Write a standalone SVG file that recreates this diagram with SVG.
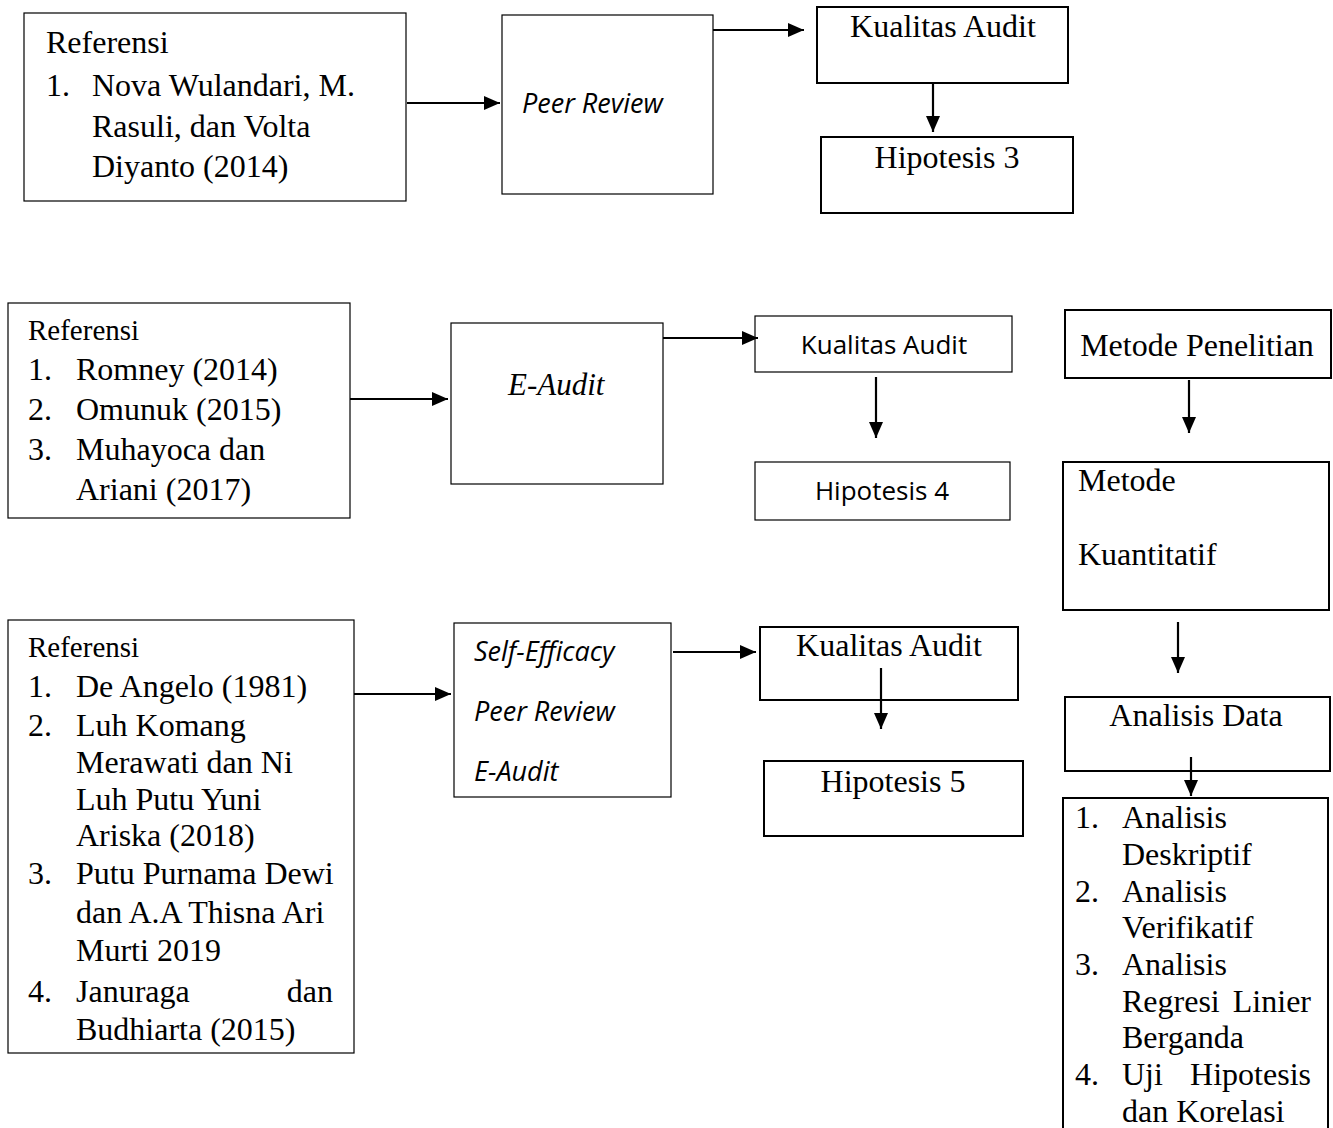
<svg xmlns="http://www.w3.org/2000/svg" width="1333" height="1128" viewBox="0 0 1333 1128">
<style>
.bg{fill:#ffffff}
.box{fill:#ffffff;stroke:#000;stroke-width:1.2}
.bx2{fill:#ffffff;stroke:#000;stroke-width:2}
.tr{font-family:"Liberation Serif","Times New Roman",serif;font-size:32px;fill:#000}
.tri{font-family:"Liberation Serif","Times New Roman",serif;font-size:31px;font-style:italic;fill:#000}
.ref{font-family:"Liberation Serif","Times New Roman",serif;font-size:29px;fill:#000}
.sn{font-family:"Open Sans","Liberation Sans",sans-serif;font-size:26px;fill:#000}
.si{font-family:"Open Sans","Liberation Sans",sans-serif;font-size:27px;font-style:italic;fill:#000}
.c{text-anchor:middle}
.con line{stroke:#000;stroke-width:2.2;marker-end:url(#ah)}
</style>
<defs>
<marker id="ah" markerUnits="userSpaceOnUse" markerWidth="16" markerHeight="14" refX="16" refY="7" orient="auto">
<path d="M0,0 L16,7 L0,14 z" fill="#000"/>
</marker>
</defs>
<rect class="bg" x="0" y="0" width="1333" height="1128"/>

<g id="ref1">
<rect class="box" x="24" y="13" width="382" height="188"/>
<text class="tr" x="46" y="53">Referensi</text>
<text class="tr" x="46" y="96">1.</text>
<text class="tr" x="92" y="96">Nova Wulandari, M.</text>
<text class="tr" x="92" y="137">Rasuli, dan Volta</text>
<text class="tr" x="92" y="177">Diyanto (2014)</text>
</g>
<g id="peerreview">
<rect class="box" x="502" y="15" width="211" height="179"/>
<text class="si" x="522" y="113">Peer Review</text>
</g>
<g id="kualitas1">
<rect class="bx2" x="817" y="7" width="251" height="76"/>
<text class="tr c" x="943" y="37">Kualitas Audit</text>
</g>
<g id="hipotesis3">
<rect class="bx2" x="821" y="137" width="252" height="76"/>
<text class="tr c" x="947" y="168">Hipotesis 3</text>
</g>

<g id="ref2">
<rect class="box" x="8" y="303" width="342" height="215"/>
<text class="ref" x="28" y="340">Referensi</text>
<text class="tr" x="28" y="380">1.</text><text class="tr" x="76" y="380">Romney (2014)</text>
<text class="tr" x="28" y="420">2.</text><text class="tr" x="76" y="420">Omunuk (2015)</text>
<text class="tr" x="28" y="460">3.</text><text class="tr" x="76" y="460">Muhayoca dan</text>
<text class="tr" x="76" y="500">Ariani (2017)</text>
</g>
<g id="eaudit">
<rect class="box" x="451" y="323" width="212" height="161"/>
<text class="tri" x="508" y="395">E-Audit</text>
</g>
<g id="kualitas2">
<rect class="box" x="755" y="316" width="257" height="56"/>
<text class="sn c" x="884" y="354">Kualitas Audit</text>
</g>
<g id="hipotesis4">
<rect class="box" x="755" y="462" width="255" height="58"/>
<text class="sn c" x="882" y="500">Hipotesis 4</text>
</g>

<g id="metodepenelitian">
<rect class="bx2" x="1065" y="310" width="266" height="68"/>
<text class="tr c" x="1197" y="356">Metode Penelitian</text>
</g>
<g id="metodekuantitatif">
<rect class="bx2" x="1063" y="462" width="266" height="148"/>
<text class="tr" x="1078" y="491">Metode</text>
<text class="tr" x="1078" y="565">Kuantitatif</text>
</g>
<g id="analisisdata">
<rect class="bx2" x="1065" y="697" width="265" height="74"/>
<text class="tr c" x="1196" y="726">Analisis Data</text>
</g>
<g id="analisislist">
<rect class="bx2" x="1063" y="798" width="265" height="345"/>
<text class="tr" x="1075" y="828">1.</text><text class="tr" x="1122" y="828">Analisis</text>
<text class="tr" x="1122" y="865">Deskriptif</text>
<text class="tr" x="1075" y="902">2.</text><text class="tr" x="1122" y="902">Analisis</text>
<text class="tr" x="1122" y="938">Verifikatif</text>
<text class="tr" x="1075" y="975">3.</text><text class="tr" x="1122" y="975">Analisis</text>
<text class="tr" y="1012"><tspan x="1122">Regresi</tspan><tspan x="1311" text-anchor="end">Linier</tspan></text>
<text class="tr" x="1122" y="1048">Berganda</text>
<text class="tr" x="1075" y="1085">4.</text><text class="tr" y="1085"><tspan x="1122">Uji</tspan><tspan x="1311" text-anchor="end">Hipotesis</tspan></text>
<text class="tr" x="1122" y="1122">dan Korelasi</text>
</g>

<g id="ref3">
<rect class="box" x="8" y="620" width="346" height="433"/>
<text class="ref" x="28" y="657">Referensi</text>
<text class="tr" x="28" y="697">1.</text><text class="tr" x="76" y="697">De Angelo (1981)</text>
<text class="tr" x="28" y="736">2.</text><text class="tr" x="76" y="736">Luh Komang</text>
<text class="tr" x="76" y="773">Merawati dan Ni</text>
<text class="tr" x="76" y="810">Luh Putu Yuni</text>
<text class="tr" x="76" y="846">Ariska (2018)</text>
<text class="tr" x="28" y="884">3.</text><text class="tr" x="76" y="884">Putu Purnama Dewi</text>
<text class="tr" x="76" y="923">dan A.A Thisna Ari</text>
<text class="tr" x="76" y="961">Murti 2019</text>
<text class="tr" x="28" y="1002">4.</text><text class="tr" y="1002"><tspan x="76">Januraga</tspan><tspan x="333" text-anchor="end">dan</tspan></text>
<text class="tr" x="76" y="1040">Budhiarta (2015)</text>
</g>
<g id="selfefficacy">
<rect class="box" x="454" y="623" width="217" height="174"/>
<text class="si" x="474" y="661">Self-Efficacy</text>
<text class="si" x="474" y="721">Peer Review</text>
<text class="si" x="474" y="781">E-Audit</text>
</g>
<g id="kualitas3">
<rect class="bx2" x="760" y="627" width="258" height="73"/>
<text class="tr c" x="889" y="656">Kualitas Audit</text>
</g>
<g id="hipotesis5">
<rect class="bx2" x="764" y="761" width="259" height="75"/>
<text class="tr c" x="893" y="792">Hipotesis 5</text>
</g>

<g id="connectors" class="con">
<line x1="407" y1="103" x2="500" y2="103"/>
<line x1="713" y1="30" x2="804" y2="30"/>
<line x1="933" y1="83" x2="933" y2="132"/>
<line x1="350" y1="399" x2="448" y2="399"/>
<line x1="663" y1="338" x2="758" y2="338"/>
<line x1="876" y1="377" x2="876" y2="438"/>
<line x1="1189" y1="380" x2="1189" y2="433"/>
<line x1="1178" y1="622" x2="1178" y2="673"/>
<line x1="1191" y1="757" x2="1191" y2="796"/>
<line x1="354" y1="694" x2="451" y2="694"/>
<line x1="673" y1="652" x2="756" y2="652"/>
<line x1="881" y1="668" x2="881" y2="729"/>
</g>
</svg>
